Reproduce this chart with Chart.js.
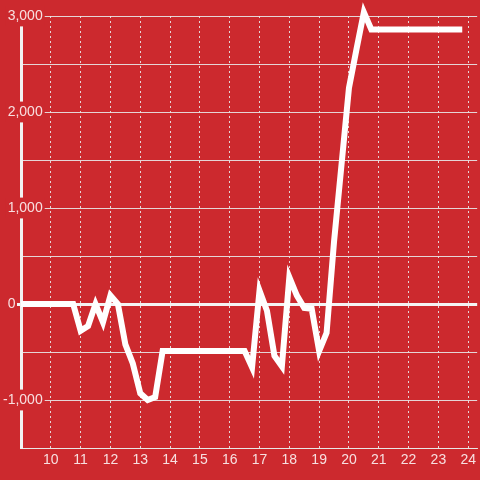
<!DOCTYPE html>
<html>
<head>
<meta charset="utf-8">
<script src="https://cdn.jsdelivr.net/npm/chart.js@4/dist/chart.umd.min.js"></script>
<style>
  html, body { margin: 0; padding: 0; background: #cc292e; }
  #chart { display: block; background: #cc292e; }
</style>
</head>
<body>
<canvas id="chart" width="480" height="480"></canvas>
<script>
// readings of the line (x = hour, y = value); flat runs kept as their end points
const hours = [9, 10.75, 11, 11.25, 11.5, 11.75, 12, 12.25, 12.5, 12.75, 13, 13.25, 13.5, 13.75,
    16.5, 16.75, 17, 17.25, 17.5, 17.75, 18, 18.25, 18.5, 18.75, 19, 19.25, 19.5, 19.75,
    20, 20.25, 20.5, 20.75, 23.8];
const values = [0, 0, -280, -230, 0, -190, 90, 0, -420, -620, -930, -1000, -970, -490,
    -490, -660, 140, -70, -540, -650, 280, 90, -40, -50, -490, -300, 650, 1450,
    2250, 2650, 3040, 2860, 2860];

const xTicks = [10, 11, 12, 13, 14, 15, 16, 17, 18, 19, 20, 21, 22, 23, 24];
const yMin = -1500, yMax = 3000, yStep = 500;

const RED = "#cc292e";
const LABEL = "rgba(255,255,255,0.85)";
const GRID = "rgba(232,232,232,0.9)";

const points = hours.map((h, i) => ({ x: h, y: values[i] }));

const isMajor = (v) => v % 1000 === 0;

new Chart(document.getElementById("chart"), {
    type: "line",
    data: {
        datasets: [{
            data: points,
            borderColor: "#ffffff",
            borderWidth: 6,
            borderJoinStyle: "miter",
            pointRadius: 0,
            tension: 0,
            fill: false,
            clip: false
        }]
    },
    options: {
        responsive: false,
        animation: false,
        layout: { padding: { top: 16, right: 0, left: 0, bottom: 0 } },
        plugins: { legend: { display: false }, tooltip: { enabled: false } },
        scales: {
            x: {
                type: "linear",
                min: 9,
                max: 24.3,
                afterBuildTicks: (s) => { s.ticks = xTicks.map(v => ({ value: v })); },
                afterFit: (s) => { s.height = 32; },
                grid: { color: GRID, lineWidth: 1, drawTicks: false },
                border: { color: GRID, width: 1, dash: [2, 3] },
                ticks: {
                    color: LABEL,
                    padding: 4,
                    maxRotation: 0,
                    autoSkip: false,
                    font: { family: "'Liberation Sans', Arial, sans-serif", size: 14 }
                }
            },
            y: {
                min: yMin,
                max: yMax,
                afterFit: (s) => { s.width = 21; },
                grid: {
                    color: (c) => c.tick && c.tick.value === 0 ? "#f4f4f4" : GRID,
                    lineWidth: (c) => c.tick && c.tick.value === 0 ? 3 : 1,
                    drawTicks: true,
                    tickLength: 4,
                    tickColor: (c) => c.tick && c.tick.value === 0 ? "#f4f4f4" : "rgba(0,0,0,0)",
                    tickWidth: (c) => c.tick && c.tick.value === 0 ? 3 : 1
                },
                border: { color: "#f2f2f2", width: 3 },
                ticks: {
                    stepSize: yStep,
                    color: LABEL,
                    mirror: true,
                    crossAlign: "far",
                    padding: -18,
                    font: { family: "'Liberation Sans', Arial, sans-serif", size: 14 },
                    showLabelBackdrop: (c) => c.tick && c.tick.value !== 0 && isMajor(c.tick.value),
                    backdropColor: RED,
                    backdropPadding: 2,
                    callback: (v) => {
                        if (!isMajor(v)) return "";
                        if (v === 0) return "0\u00a0\u00a0\u00a0\u00a0\u00a0\u00a0\u00a0";
                        return v.toLocaleString("en-US");
                    }
                }
            }
        }
    }
});
</script>
</body>
</html>
